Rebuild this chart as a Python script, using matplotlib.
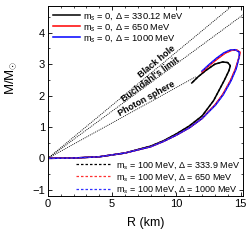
import numpy as np
import matplotlib
matplotlib.use("Agg")
import matplotlib.pyplot as plt

plt.rcParams['font.family'] = ['Liberation Sans', 'DejaVu Sans']
plt.rcParams['mathtext.fontset'] = 'custom'
plt.rcParams['mathtext.rm'] = 'Liberation Sans'
plt.rcParams['mathtext.it'] = 'Liberation Sans:italic'

# mass-radius curves (R in km, M in solar masses)
R_330 = [0, 2, 4, 6, 8, 9, 10, 11, 12, 12.9, 13.3, 13.75, 14.1, 14.2, 14.0, 13.6, 13.0, 12.3, 11.7, 11.2]
M_330 = [0, 0.01, 0.05, 0.17, 0.39, 0.56, 0.78, 1.03, 1.35, 1.84, 2.15, 2.5, 2.8, 2.95, 3.05, 3.07, 3.0, 2.8, 2.6, 2.4]

R_650 = [0, 2, 4, 6, 8, 9, 10, 11, 12, 13, 13.6, 14.2, 14.6, 14.9, 14.95, 14.7, 14.3, 13.8, 13.2, 12.6, 12.0]
M_650 = [0, 0.01, 0.05, 0.17, 0.37, 0.54, 0.74, 0.97, 1.27, 1.7, 2.03, 2.47, 2.85, 3.25, 3.38, 3.45, 3.44, 3.35, 3.17, 2.97, 2.75]

R_1000 = [0, 2, 4, 6, 8, 9, 10, 11, 12, 13.05, 13.65, 14.25, 14.65, 14.9, 14.9, 14.6, 14.2, 13.7, 13.1, 12.5, 12.0]
M_1000 = [0, 0.01, 0.05, 0.17, 0.37, 0.54, 0.74, 0.97, 1.27, 1.7, 2.03, 2.47, 2.85, 3.25, 3.38, 3.46, 3.45, 3.36, 3.18, 2.97, 2.78]

# m_s = 100 MeV curves (almost on top of the m_s = 0 ones)
R_334 = [0, 2, 4, 6, 8, 9, 10, 11, 12, 12.9, 13.3, 13.75, 14.1, 14.2, 14.0, 13.6, 13.0, 12.3, 11.7, 11.2]
M_334 = [0, 0.01, 0.05, 0.17, 0.39, 0.56, 0.78, 1.03, 1.35, 1.84, 2.15, 2.5, 2.8, 2.95, 3.05, 3.07, 3.0, 2.8, 2.6, 2.4]
R_650b = R_650
M_650b = M_650
R_1000b = R_1000
M_1000b = M_1000

labels_solid = [r'm$_s$ = 0, $\Delta$ = 330.12 MeV',
                r'm$_s$ = 0, $\Delta$ = 650 MeV',
                r'm$_s$ = 0, $\Delta$ = 1000 MeV']
labels_dash = [r'm$_s$ = 100 MeV, $\Delta$ = 333.9 MeV',
               r'm$_s$ = 100 MeV, $\Delta$ = 650 MeV',
               r'm$_s$ = 100 MeV, $\Delta$ = 1000 MeV']

# limit lines: M = R / (k * 1.477 km)
k_bh, k_buch, k_ph = 2.0, 9.0 / 4.0, 3.0
R_line = [0, 16]
R_ph = [0, 11.5]

fig = plt.figure(figsize=(2.52, 2.42), dpi=100)
ax = fig.add_axes([0.19, 0.19, 0.775, 0.785])

dot = (0, (1.2, 1.2))
ax.plot(R_line, [r / (k_bh * 1.477) for r in R_line], color='k', lw=0.6, ls=dot)
ax.plot(R_line, [r / (k_buch * 1.477) for r in R_line], color='k', lw=0.6, ls=dot)
ax.plot(R_ph, [r / (k_ph * 1.477) for r in R_ph], color='k', lw=0.6, ls=dot)

s1, = ax.plot(R_330, M_330, color='k', lw=1.1)
s2, = ax.plot(R_650, M_650, color='#ff0000', lw=1.1)
s3, = ax.plot(R_1000, M_1000, color='#0000ff', lw=1.1)
d1, = ax.plot(R_334, M_334, color='k', lw=0.9, ls=(0, (2, 1.6)))
d2, = ax.plot(R_650b, M_650b, color='#ff3030', lw=0.9, ls=(0, (2, 1.6)))
d3, = ax.plot(R_1000b, M_1000b, color='#3030ff', lw=0.9, ls=(0, (2, 1.6)))

ax.set_xlim(0, 15.2)
ax.set_ylim(-1.2, 4.85)
ax.set_xticks([0, 5, 10, 15])
ax.set_xticks(np.arange(0, 16, 1), minor=True)
ax.set_yticks([-1, 0, 1, 2, 3, 4])
ax.set_yticks(np.arange(-1, 5, 0.5), minor=True)
ax.tick_params(which='both', direction='in', top=True, right=True, labelsize=8, pad=2)
ax.tick_params(which='major', length=3, width=0.6)
ax.tick_params(which='minor', length=1.5, width=0.5)
for sp in ax.spines.values():
    sp.set_linewidth(0.7)

ax.set_xlabel('R (km)', fontsize=9, labelpad=6)
ax.set_ylabel(r'M/M$_{\odot}$', fontsize=9.5)
ax.yaxis.set_label_coords(-0.15, 0.62)

# labels along the limit lines
fig.canvas.draw()
def angle(k):
    p = ax.transData.transform([(0, 0), (10, 10 / (k * 1.477))])
    return np.degrees(np.arctan2(p[1, 1] - p[0, 1], p[1, 0] - p[0, 0]))

ax.text(8.5, 3.07, 'Black hole', fontsize=6.5, fontweight='bold', rotation=angle(k_bh),
        ha='center', va='center', rotation_mode='anchor')
ax.text(7.95, 2.5, "Buchdahl's limit", fontsize=6.5, fontweight='bold', rotation=angle(k_buch),
        ha='center', va='center', rotation_mode='anchor')
ax.text(7.7, 1.89, 'Photon sphere', fontsize=6.5, fontweight='bold', rotation=angle(k_ph),
        ha='center', va='center', rotation_mode='anchor')

leg1 = ax.legend([s1, s2, s3], labels_solid, loc='upper left', fontsize=6.7, frameon=False,
                 handlelength=3.0, handletextpad=0.3, labelspacing=0.02, borderaxespad=0.1)
ax.add_artist(leg1)
ax.legend([d1, d2, d3], labels_dash, loc='lower right', fontsize=6.5, frameon=False,
          handlelength=3.8, handletextpad=0.6, labelspacing=0.15, borderaxespad=0.0,
          bbox_to_anchor=(1.0, -0.015))

fig.savefig('out.png', dpi=100)
